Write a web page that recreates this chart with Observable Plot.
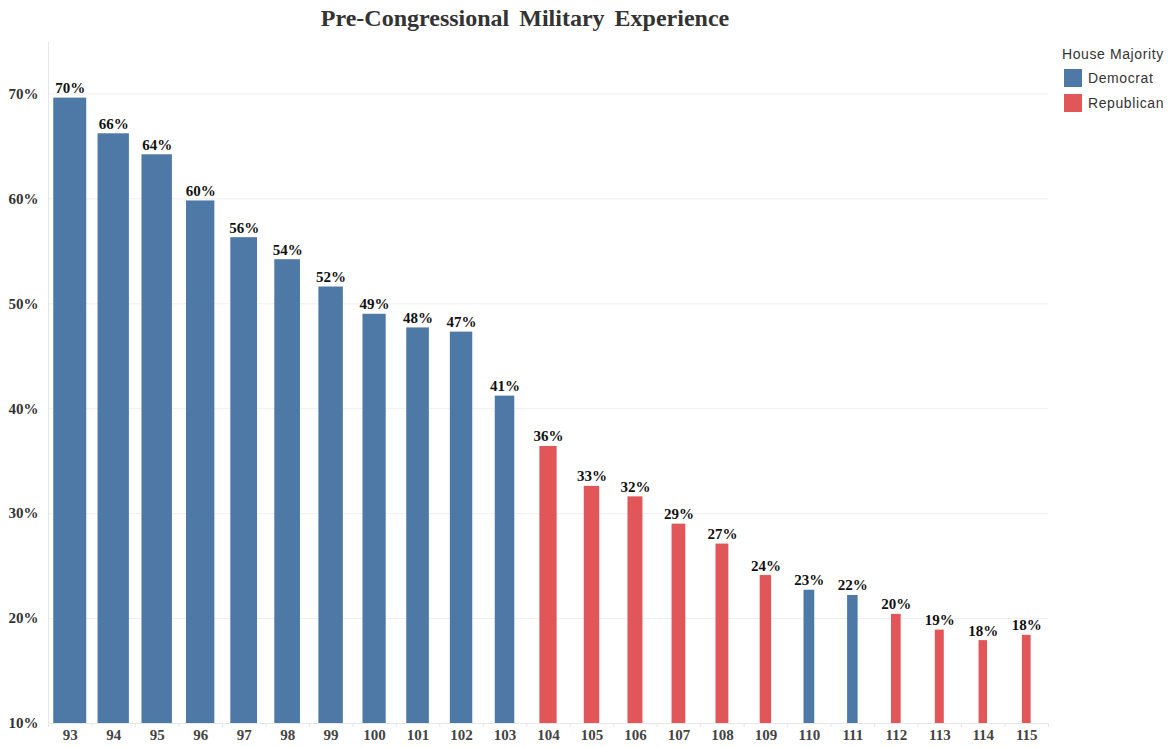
<!DOCTYPE html>
<html>
<head>
<meta charset="utf-8">
<script src="https://cdn.jsdelivr.net/npm/d3@7"></script>
<script src="https://cdn.jsdelivr.net/npm/@observablehq/plot@0.6"></script>
<style>
  body { margin: 0; background: #fff; width: 1173px; height: 747px; position: relative; overflow: hidden; }
  #title { position: absolute; left: 0; top: 0; width: 1050px; height: 36px; line-height: 36px; text-align: center;
    font-family: "Liberation Serif", "Times New Roman", serif; font-weight: bold; font-size: 24px; color: #333; word-spacing: 4px; }
  #chart { position: absolute; left: 0; top: 36px; }
  #legend { position: absolute; left: 1062px; top: 46px; font-family: "Liberation Sans", Arial, sans-serif; color: #333; font-size: 14px; letter-spacing: 0.6px; }
  #legend .head { margin-bottom: 3px; }
  #legend .item { display: flex; align-items: center; height: 25px; }
  #legend .sw { width: 18px; height: 18px; margin-left: 2px; margin-right: 6px; }
</style>
</head>
<body>
<div id="title">Pre-Congressional Military Experience</div>
<div id="chart"></div>
<div id="legend"></div>
<script>
const congresses = [93, 94, 95, 96, 97, 98, 99, 100, 101, 102, 103, 104, 105, 106, 107, 108, 109, 110, 111, 112, 113, 114, 115];
const militaryPct = [69.6, 66.2, 64.2, 59.8, 56.3, 54.2, 51.6, 49.0, 47.7, 47.3, 41.2, 36.4, 32.6, 31.6, 29.0, 27.1, 24.1, 22.7, 22.2, 20.4, 18.9, 17.9, 18.4];
const houseMajority = ["Democrat","Democrat","Democrat","Democrat","Democrat","Democrat","Democrat","Democrat","Democrat","Democrat","Democrat",
  "Republican","Republican","Republican","Republican","Republican","Republican","Democrat","Democrat","Republican","Republican","Republican","Republican"];
const parties = ["Democrat", "Republican"];
const partyColors = ["#4e79a7", "#e15759"];
const yTicks = [10, 20, 30, 40, 50, 60, 70];

const data = congresses.map((c, i) => ({congress: c, value: militaryPct[i], party: houseMajority[i]}));
const sizeK = 0.0109; // bar width (in congress units) per percentage point

const serif = "Liberation Serif, Times New Roman, serif";
const boundaries = congresses.map(c => c - 0.5).concat([congresses[congresses.length - 1] + 0.5]);

const chart = Plot.plot({
  width: 1173,
  height: 711,
  marginLeft: 48,
  marginRight: 125,
  marginTop: 6,
  marginBottom: 24,
  style: {fontFamily: serif, fontSize: "15px", background: "#fff"},
  x: {type: "linear", domain: [92.5, 115.5]},
  y: {domain: [10, 74.9]},
  color: {domain: parties, range: partyColors},
  marks: [
    Plot.ruleY(yTicks.slice(1), {stroke: "#efefef", strokeWidth: 1}),
    Plot.ruleY([10], {stroke: "#e6e6e6", strokeWidth: 1}),
    Plot.ruleX([92.5], {stroke: "#e6e6e6", strokeWidth: 1}),
    Plot.rectY(data, {
      x1: d => d.congress - d.value * sizeK / 2,
      x2: d => d.congress + d.value * sizeK / 2,
      y: "value",
      fill: "party",
      clip: true
    }),
    Plot.text(data, {
      x: "congress", y: "value", text: d => Math.round(d.value) + "%",
      lineAnchor: "bottom", dy: -5, fontWeight: "bold", fill: "#111", fontSize: 15
    }),
    Plot.axisY(yTicks, {
      tickSize: 0, tickPadding: 10, tickFormat: d => d + "%",
      fontWeight: "bold", fill: "#333", fontSize: 15, label: null
    }),
    Plot.axisX(congresses, {
      tickSize: 0, tickPadding: 6, tickFormat: d => String(d),
      fontWeight: "bold", fill: "#444", fontSize: 15, label: null
    }),
    Plot.axisX(boundaries, {
      tickSize: 4, tickFormat: () => "", stroke: "#e6e6e6", label: null
    })
  ]
});
document.getElementById("chart").appendChild(chart);

const legend = document.getElementById("legend");
const head = document.createElement("div");
head.className = "head";
head.textContent = "House Majority";
legend.appendChild(head);
parties.forEach((p, i) => {
  const item = document.createElement("div");
  item.className = "item";
  const sw = document.createElement("div");
  sw.className = "sw";
  sw.style.background = partyColors[i];
  const label = document.createElement("span");
  label.textContent = p;
  item.appendChild(sw);
  item.appendChild(label);
  legend.appendChild(item);
});
</script>
</body>
</html>
